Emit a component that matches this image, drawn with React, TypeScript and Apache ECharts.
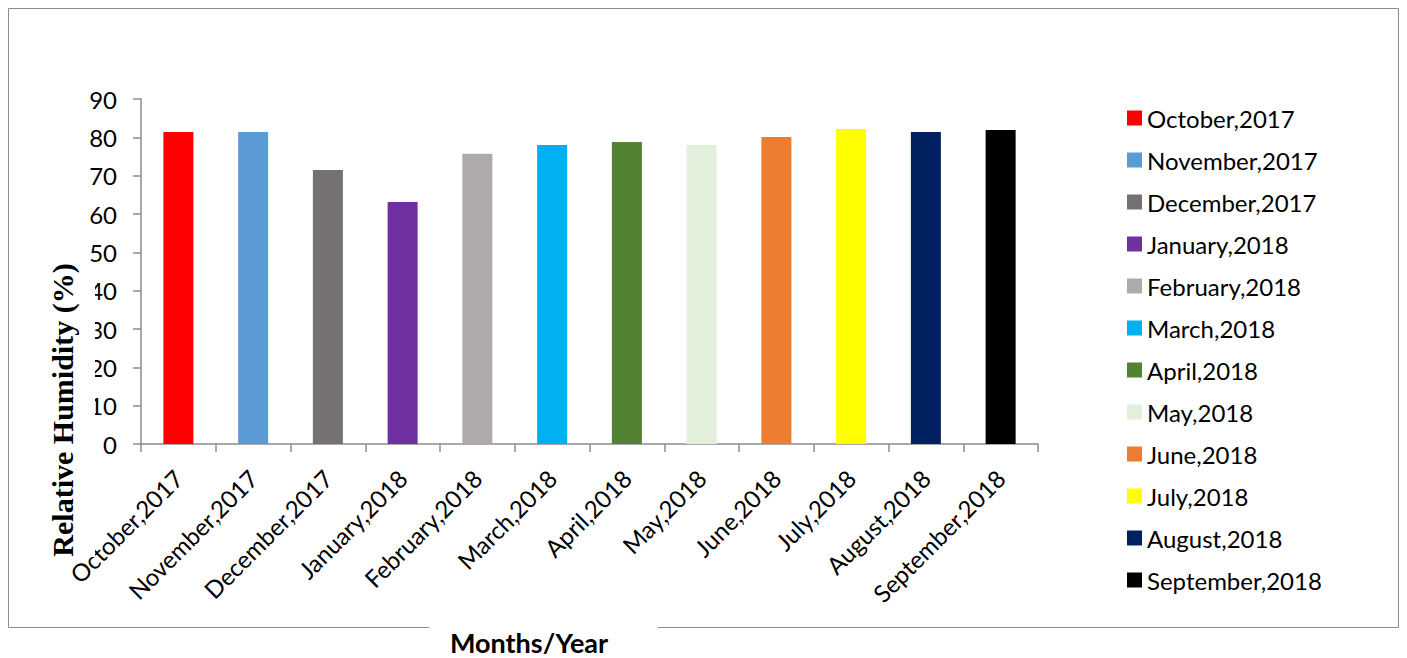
import React, { useEffect, useRef } from "react";
import * as echarts from "echarts";

const categories = [
  "October,2017", "November,2017", "December,2017", "January,2018",
  "February,2018", "March,2018", "April,2018", "May,2018",
  "June,2018", "July,2018", "August,2018", "September,2018",
];
const humidity = [81.4, 81.4, 71.5, 63.1, 75.7, 78.0, 78.8, 78.0, 80.1, 82.2, 81.4, 81.9];
const colors = [
  "#ff0000", "#5b9bd5", "#767171", "#7030a0", "#aeaaaa", "#00b0f0",
  "#548235", "#e2efda", "#ed7d31", "#ffff00", "#002060", "#000000",
];
const yTicks = [0, 10, 20, 30, 40, 50, 60, 70, 80, 90];

const FONT = "Lato, 'Open Sans', sans-serif";

export default function App() {
  const ref = useRef<HTMLDivElement>(null);
  useEffect(() => {
    if (!ref.current) return;
    const chart = echarts.init(ref.current, null, { renderer: "svg" });
    const series = categories.map((name, i) => ({
      name,
      type: "bar",
      stack: "all",
      barWidth: 30,
      itemStyle: { color: colors[i] },
      data: categories.map((_, j) => (j === i ? humidity[i] : "-")),
    }));
    chart.setOption({
      animation: false,
      backgroundColor: "#ffffff",
      grid: { left: 133, top: 91, width: 897, height: 345, containLabel: false },
      xAxis: {
        type: "category",
        data: categories,
        axisLine: { lineStyle: { color: "#8c8c8c", width: 1.5 } },
        axisTick: { show: true, length: 8, alignWithLabel: false, lineStyle: { color: "#8c8c8c", width: 1.5 } },
        axisLabel: { interval: 0, rotate: 45, fontSize: 24, color: "#000", fontFamily: FONT, margin: 30 },
      },
      yAxis: {
        type: "value",
        min: yTicks[0],
        max: yTicks[yTicks.length - 1],
        interval: 10,
        axisLine: { show: true, lineStyle: { color: "#8c8c8c", width: 1.5 } },
        axisTick: { show: true, length: 8, lineStyle: { color: "#8c8c8c", width: 1.5 } },
        splitLine: { show: false },
        axisLabel: { fontSize: 24, color: "#000", fontFamily: FONT, margin: 24 },
      },
      legend: {
        orient: "vertical",
        left: 1119,
        top: 98,
        padding: 0,
        icon: "rect",
        itemWidth: 15,
        itemHeight: 15,
        itemGap: 18,
        data: categories,
        textStyle: { fontSize: 24, color: "#000", fontFamily: FONT },
      },
      series,
      graphic: [
        {
          type: "rect",
          z: 100,
          shape: { x: 0.5, y: 0.5, width: 1390, height: 619 },
          style: { fill: "none", stroke: "#8c8c8c", lineWidth: 1 },
          silent: true,
        },
        {
          type: "rect",
          z: 101,
          shape: { x: 421, y: 612, width: 229, height: 20 },
          style: { fill: "#ffffff" },
          silent: true,
        },
        {
          type: "text",
          z: 102,
          x: 521,
          y: 634,
          style: {
            text: "Months/Year",
            font: `bold 27px ${FONT}`,
            fill: "#000",
            align: "center",
            verticalAlign: "middle",
          },
        },
        {
          type: "rect",
          z: 101,
          shape: { x: 38, y: 254, width: 49, height: 295 },
          style: { fill: "#ffffff" },
          silent: true,
        },
        {
          type: "text",
          z: 102,
          x: 54,
          y: 402,
          rotation: Math.PI / 2,
          style: {
            text: "Relative Humidity (%)",
            font: "bold 30px 'Liberation Serif', 'Times New Roman', serif",
            fill: "#000",
            align: "center",
            verticalAlign: "middle",
          },
        },
      ],
    });
    return () => chart.dispose();
  }, []);
  return <div ref={ref} style={{ width: 1391, height: 650 }} />;
}
